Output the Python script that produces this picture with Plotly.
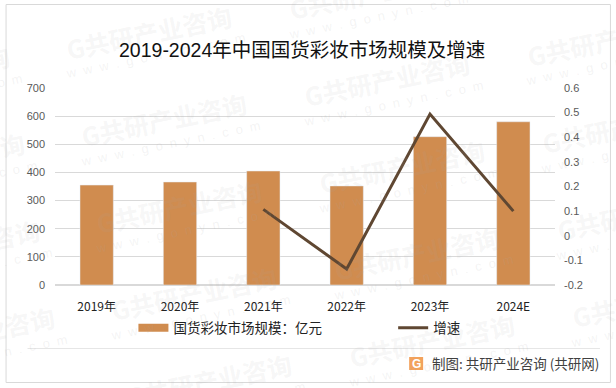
import plotly.graph_objects as go

categories = ["2019年", "2020年", "2021年", "2022年", "2023年", "2024E"]
market_size = [355, 366, 405, 352, 527, 580]
growth = [None, None, 0.107, -0.135, 0.494, 0.10]
left_ticks = [0, 100, 200, 300, 400, 500, 600, 700]
right_ticks = [-0.2, -0.1, 0, 0.1, 0.2, 0.3, 0.4, 0.5, 0.6]
title_text = "2019-2024年中国国货彩妆市场规模及增速"
source_text = "制图: 共研产业咨询 (共研网)"
bar_name = "国货彩妆市场规模：亿元"
line_name = "增速"

W, H = 616, 388
L, R, T, B = 54.5, 555, 88, 285
CJK = "Noto Sans CJK SC"
fx = lambda x: (x - L) / (R - L)
fy = lambda y: (B - y) / (B - T)

fig = go.Figure()
fig.add_bar(x=categories, y=market_size, name=bar_name, marker_color="#D08C4F", width=0.4, yaxis="y", showlegend=False)
fig.add_scatter(x=categories, y=[None] * len(categories), name=bar_name, mode="lines", yaxis="y", legend="legend",
                line=dict(color="#D08C4F", width=8))
fig.add_scatter(x=categories, y=growth, name=line_name, mode="lines", yaxis="y2", legend="legend2",
                line=dict(color="#5F4732", width=3))

ann = []
for i in range(-1, 4):
    for j in range(-1, 6):
        x = 60 + i * 223 + j * 15
        y = 50 - i * 40 + j * 87
        if -190 < x < 620 and -10 < y < 400:
            ann.append(dict(text="<b>G共研产业咨询</b>", xref="paper", yref="paper", x=fx(x + 89), y=fy(y - 18),
                            showarrow=False, textangle=-11.6, xanchor="center", yanchor="middle",
                            font=dict(family=CJK, size=25, color="rgba(170,170,170,0.11)")))
            ann.append(dict(text="w  w  w  .  g  o  n  y  n  .  c  o  m", xref="paper", yref="paper",
                            x=fx(x + 95), y=fy(y + 6),
                            showarrow=False, textangle=-11.6, xanchor="center", yanchor="middle",
                            font=dict(family="Liberation Sans", size=13, color="rgba(170,170,170,0.14)")))

ann.append(dict(text=title_text, xref="paper", yref="paper", x=fx(301.5), y=fy(50), showarrow=False,
                xanchor="center", yanchor="middle", font=dict(family="Liberation Sans, " + CJK, size=19.5, color="#111111")))
ann.append(dict(text=source_text, xref="paper", yref="paper", x=fx(430), y=fy(363), showarrow=False,
                xanchor="left", yanchor="middle", font=dict(family=CJK, size=13.5, color="#404040")))
ann.append(dict(text="<b>G</b>", xref="paper", yref="paper", x=fx(416), y=fy(364), showarrow=False,
                xanchor="center", yanchor="middle", font=dict(family="Liberation Sans", size=12, color="#ffffff")))

shapes = [
    dict(type="rect", xref="paper", yref="paper", x0=fx(5.5), x1=fx(610.5), y0=fy(382.5), y1=fy(4.5),
         line=dict(color="#D9D9D9", width=1), layer="below"),
    dict(type="line", xref="paper", yref="paper", x0=fx(27), x1=fx(600), y0=fy(348.5), y1=fy(348.5),
         line=dict(color="#E6E6E6", width=1), layer="below"),
    dict(type="rect", xref="paper", yref="paper", x0=fx(409), x1=fx(423), y0=fy(370), y1=fy(357),
         line=dict(width=0), fillcolor="#F2A25C", layer="below"),
]

leg_common = dict(orientation="h", xanchor="left", yanchor="middle",
                  bgcolor="rgba(0,0,0,0)", font=dict(family=CJK, size=13.5, color="#222222"))
fig.update_layout(
    width=W, height=H, autosize=False, paper_bgcolor="white", plot_bgcolor="rgba(0,0,0,0)",
    margin=dict(l=L, r=W - R, t=T, b=H - B, autoexpand=False), showlegend=True, bargap=0.6,
    annotations=ann, shapes=shapes,
    xaxis=dict(tickfont=dict(family=CJK, size=12, color="#222222"),
               ticks="", ticklabelstandoff=13, showline=False, showgrid=False, zeroline=False,
               type="category"),
    yaxis=dict(range=[0, 700], tickvals=left_ticks,
               gridcolor="#D9D9D9", gridwidth=1, zeroline=True, zerolinecolor="#D9D9D9",
               tickfont=dict(family="Liberation Sans", size=11, color="#595959"), ticklabelstandoff=9),
    yaxis2=dict(range=[-0.2, 0.6], tickvals=right_ticks, overlaying="y", side="right",
                showgrid=False, zeroline=False, ticktext=[str(v) for v in right_ticks], tickmode="array",
                tickfont=dict(family="Liberation Sans", size=11, color="#595959"), ticklabelstandoff=8),
    legend=dict(x=fx(133), y=fy(328), **leg_common),
    legend2=dict(x=fx(393), y=fy(328), **leg_common),
)
fig.write_html("out.html", config={"displayModeBar": False},
               post_script="document.body.style.margin='0';document.documentElement.style.overflow='hidden';")
